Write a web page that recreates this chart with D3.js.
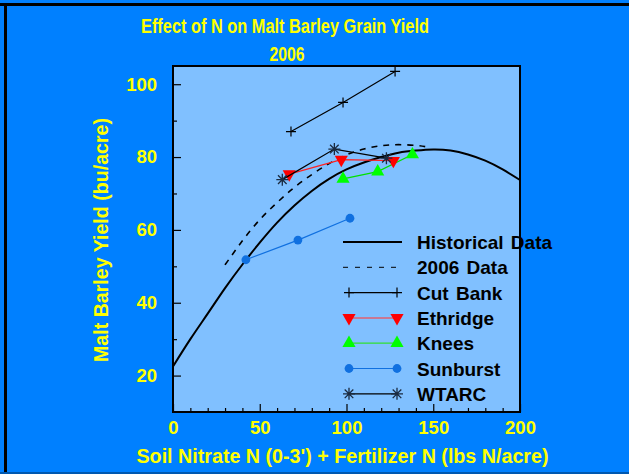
<!DOCTYPE html>
<html>
<head>
<meta charset="utf-8">
<script src="https://cdn.jsdelivr.net/npm/d3@7"></script>
<style>
  body { margin: 0; background: #0080FF; }
  svg text { font-family: "Liberation Sans", Arial, sans-serif; font-weight: bold; }
</style>
</head>
<body>
<svg id="chart" width="629" height="474"></svg>
<script>
// values
var histN = [0, 10, 20, 30, 40, 50, 60, 70, 80, 90, 100, 110, 120, 130, 140, 150, 160, 170, 180, 190, 200];
var histYield = [22.5, 30, 37, 44, 50.5, 56.5, 62, 66.7, 70.7, 74, 76.6, 78.5, 80, 81.2, 81.8, 82.1, 81.8, 80.7, 79, 76.6, 73.7];

var n2006 = [30, 40, 50, 60, 70, 80, 90, 100, 110, 120, 130, 140, 146];
var yield2006 = [50.4, 57, 62.8, 67.5, 71.7, 75.2, 78.2, 80.6, 82.2, 83.1, 83.4, 83.2, 82.8];

var cutBankN = [68, 98, 128];
var cutBankYield = [87, 95, 103.5];
var ethridgeN = [67, 97, 127];
var ethridgeYield = [75.3, 79.3, 79];
var kneesN = [98, 118, 138];
var kneesYield = [74, 76, 80.7];
var sunburstN = [42, 72, 102];
var sunburstYield = [51.8, 57.2, 63.2];
var wtarcN = [63, 93, 123];
var wtarcYield = [73.8, 82.2, 79.7];

var legendLabels = ["Historical Data", "2006 Data", "Cut Bank", "Ethridge", "Knees", "Sunburst", "WTARC"];
var xTicks = [0, 50, 100, 150, 200];
var yTicks = [20, 40, 60, 80, 100];

var svg = d3.select("#chart");

// background frame
svg.append("rect").attr("width", 629).attr("height", 474).attr("fill", "#0080FF");
svg.append("rect").attr("x", 0).attr("y", 3).attr("width", 629).attr("height", 3).attr("fill", "#000");
svg.append("rect").attr("x", 4).attr("y", 3).attr("width", 3).attr("height", 471).attr("fill", "#000");
svg.append("rect").attr("x", 0).attr("y", 472).attr("width", 629).attr("height", 2).attr("fill", "#0058B0");

var x = d3.scaleLinear().domain([0, 200]).range([173, 520]);
var y = d3.scaleLinear().domain([10, 105]).range([412, 66]);

// plot area
svg.append("rect")
  .attr("x", x(0)).attr("y", y(105))
  .attr("width", x(200) - x(0)).attr("height", y(10) - y(105))
  .attr("fill", "#80C0FF");

function styleAxis(g) {
  g.select(".domain").remove();
  g.selectAll(".tick line").attr("stroke", "#000").attr("stroke-width", 1.2);
  g.selectAll("text").attr("fill", "#FFFF00").attr("font-size", "18.5px");
}

// minor ticks
svg.append("g")
  .attr("transform", "translate(0," + y(10) + ")")
  .call(d3.axisBottom(x).tickValues(d3.range(10, 200, 10).filter(function(d) { return d % 50; })).tickSize(-4).tickFormat(""))
  .call(styleAxis);
svg.append("g")
  .attr("transform", "translate(" + x(0) + ",0)")
  .call(d3.axisLeft(y).tickValues([30, 50, 70, 90]).tickSize(-4).tickFormat(""))
  .call(styleAxis);

// major ticks with labels
svg.append("g")
  .attr("transform", "translate(0," + y(10) + ")")
  .call(d3.axisBottom(x).tickValues(xTicks).tickSize(-8).tickPadding(9).tickFormat(d3.format("d")))
  .call(styleAxis);
svg.append("g")
  .attr("transform", "translate(" + x(0) + ",0)")
  .call(d3.axisLeft(y).tickValues(yTicks).tickSize(-8).tickPadding(16).tickFormat(d3.format("d")))
  .call(styleAxis);

// plot border
svg.append("rect")
  .attr("x", x(0)).attr("y", y(105))
  .attr("width", x(200) - x(0)).attr("height", y(10) - y(105))
  .attr("fill", "none").attr("stroke", "#000").attr("stroke-width", 2);

// titles
svg.append("text").attr("x", 285).attr("y", 33).attr("text-anchor", "middle")
  .attr("font-size", "19.5px").attr("fill", "#FFFF00")
  .attr("textLength", 288).attr("lengthAdjust", "spacingAndGlyphs")
  .text("Effect of N on Malt Barley Grain Yield");
svg.append("text").attr("x", 287).attr("y", 60.5).attr("text-anchor", "middle")
  .attr("font-size", "19.5px").attr("fill", "#FFFF00")
  .attr("textLength", 35).attr("lengthAdjust", "spacingAndGlyphs")
  .text("2006");
svg.append("text").attr("x", 342.5).attr("y", 463).attr("text-anchor", "middle")
  .attr("font-size", "19.5px").attr("fill", "#FFFF00")
  .attr("textLength", 412).attr("lengthAdjust", "spacingAndGlyphs")
  .text("Soil Nitrate N (0-3') + Fertilizer N (lbs N/acre)");
svg.append("text").attr("transform", "translate(108,240) rotate(-90)").attr("text-anchor", "middle")
  .attr("font-size", "19.5px").attr("fill", "#FFFF00")
  .attr("textLength", 244).attr("lengthAdjust", "spacingAndGlyphs")
  .text("Malt Barley Yield (bu/acre)");

// curves
function pairs(xs, ys) { return xs.map(function(d, i) { return [d, ys[i]]; }); }
var curve = d3.line().curve(d3.curveNatural)
  .x(function(d) { return x(d[0]); })
  .y(function(d) { return y(d[1]); });
var straight = d3.line()
  .x(function(d) { return x(d[0]); })
  .y(function(d) { return y(d[1]); });

svg.append("path").datum(pairs(histN, histYield))
  .attr("d", curve).attr("fill", "none").attr("stroke", "#000").attr("stroke-width", 2);
svg.append("path").datum(pairs(n2006, yield2006))
  .attr("d", curve).attr("fill", "none").attr("stroke", "#000").attr("stroke-width", 1.6)
  .attr("stroke-dasharray", "6,6");

// markers
var triDown = d3.symbol().type(d3.symbolTriangle).size(75);
function drawMarker(g, type, color) {
  if (type === "plus") {
    g.append("path").attr("d", "M-5,0H5M0,-5V5").attr("stroke", "#000").attr("stroke-width", 1.2);
  } else if (type === "down") {
    g.append("path").attr("d", triDown()).attr("transform", "rotate(180)").attr("fill", color);
  } else if (type === "up") {
    g.append("path").attr("d", triDown()).attr("fill", color);
  } else if (type === "circle") {
    g.append("circle").attr("r", 4.4).attr("fill", color);
  } else if (type === "star") {
    g.append("path").attr("d", "M0,-6V6M-6,0H6M-4.3,-4.3L4.3,4.3M-4.3,4.3L4.3,-4.3")
      .attr("stroke", "#1a2a40").attr("stroke-width", 1.3);
  }
}

var series = [
  { xs: cutBankN, ys: cutBankYield, line: "#000", marker: "plus", color: "#000" },
  { xs: sunburstN, ys: sunburstYield, line: "#1070E0", marker: "circle", color: "#1070E0" },
  { xs: kneesN, ys: kneesYield, line: "#00E000", marker: "up", color: "#00FF00" },
  { xs: ethridgeN, ys: ethridgeYield, line: "#FF2020", marker: "down", color: "#FF0000" },
  { xs: wtarcN, ys: wtarcYield, line: "#000", marker: "star", color: "#000" }
];

series.forEach(function(s) {
  var pts = pairs(s.xs, s.ys);
  svg.append("path").datum(pts).attr("d", straight)
    .attr("fill", "none").attr("stroke", s.line).attr("stroke-width", 1.2);
  pts.forEach(function(p) {
    var g = svg.append("g").attr("transform", "translate(" + x(p[0]) + "," + y(p[1]) + ")");
    drawMarker(g, s.marker, s.color);
  });
});

// legend
var legendStyles = [
  { line: "#000", width: 2, dash: null, marker: null },
  { line: "#000", width: 1, dash: "5,7", marker: null },
  { line: "#000", width: 1.2, dash: null, marker: "plus", color: "#000" },
  { line: "#E06070", width: 1.5, dash: null, marker: "down", color: "#FF0000" },
  { line: "#30E030", width: 1.2, dash: null, marker: "up", color: "#00FF00" },
  { line: "#1070E0", width: 1.2, dash: null, marker: "circle", color: "#1070E0" },
  { line: "#000", width: 1.2, dash: null, marker: "star", color: "#000" }
];
var legend = svg.append("g");
legendLabels.forEach(function(label, i) {
  var ry = 242 + i * 25.3;
  var st = legendStyles[i];
  var x1 = st.marker ? 349 : 343, x2 = st.marker ? 397 : 402;
  legend.append("line").attr("x1", x1).attr("x2", x2).attr("y1", ry).attr("y2", ry)
    .attr("stroke", st.line).attr("stroke-width", st.width)
    .attr("stroke-dasharray", st.dash);
  if (st.marker) {
    [x1, x2].forEach(function(mx) {
      var g = legend.append("g").attr("transform", "translate(" + mx + "," + ry + ")");
      drawMarker(g, st.marker, st.color);
    });
  }
  legend.append("text").attr("x", 417).attr("y", ry + 7)
    .attr("font-size", "19px").attr("fill", "#000").attr("word-spacing", "2px")
    .text(label);
});
</script>
</body>
</html>
